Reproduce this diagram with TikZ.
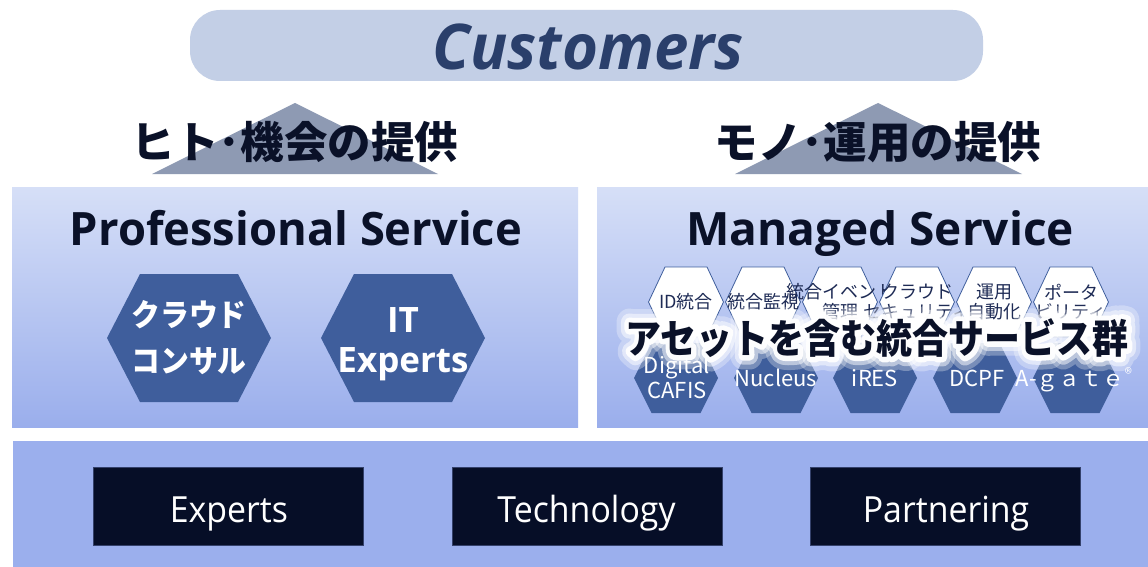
\documentclass[tikz,border=0pt]{standalone}
\usepackage{fontspec}
\usepackage{graphicx}
\newfontfamily\jp{Noto Sans CJK JP}
\newfontfamily\jpglowA{Noto Sans CJK JP}[BoldFeatures={FakeBold=70}]
\newfontfamily\jpglowB{Noto Sans CJK JP}[BoldFeatures={FakeBold=46}]
\newfontfamily\jpglowC{Noto Sans CJK JP}[BoldFeatures={FakeBold=26}]
\newfontfamily\os{Open Sans}
\definecolor{pill}{HTML}{C3CFE6}
\definecolor{custtxt}{HTML}{2A3F6B}
\definecolor{tri}{HTML}{8E9AB3}
\definecolor{ink}{HTML}{0A1128}
\definecolor{ptop}{HTML}{D6DFF7}
\definecolor{pbot}{HTML}{9AAEEC}
\definecolor{hexf}{HTML}{3F5E9C}
\definecolor{band}{HTML}{9BAFED}
\definecolor{boxc}{HTML}{060E27}
\definecolor{boxline}{HTML}{34416B}
\definecolor{navy}{HTML}{1E2B55}
\newcommand{\myhex}[6]{\path[#6] ({#1-#3},{#2}) -- ({#1-#4},{#2-#5}) -- ({#1+#4},{#2-#5}) -- ({#1+#3},{#2}) -- ({#1+#4},{#2+#5}) -- ({#1-#4},{#2+#5}) -- cycle;}
\newcommand{\bigstr}{\scalebox{0.9}[1]{アセットを含む統合サービス群}}
\begin{document}
\begin{tikzpicture}[x=1pt,y=-1pt,
  heading/.style={inner sep=0, text=ink, font=\jp\bfseries\fontsize{43.5}{43.5}\selectfont},
  panel/.style={inner sep=0, draw=none, top color=ptop, bottom color=pbot},
  titletxt/.style={anchor=base, inner sep=0, text=ink, font=\os\bfseries\fontsize{46}{46}\selectfont},
  phexlbl/.style={inner sep=0, text=white, font=\jp\bfseries\fontsize{31}{31}\selectfont},
  phexlat/.style={anchor=base, inner sep=0, text=white, font=\os\bfseries\fontsize{35}{35}\selectfont},
  bighex/.style={fill=hexf},
  tophex/.style={fill=white, draw=hexf, line width=0.8pt},
  toplbl/.style={inner sep=0, text=navy, font=\jp\fontsize{18}{18}\selectfont},
  bothex/.style={fill=hexf},
  botlbl/.style={anchor=base, inner sep=0, text=white, font=\jp\fontsize{22}{22}\selectfont},
  bigtxt/.style={inner sep=0, font=\jp\bfseries\fontsize{40}{40}\selectfont},
  dbox/.style={fill=boxc, draw=boxline, line width=0.6pt, minimum width=270pt, minimum height=78pt, inner sep=0},
  boxlbl/.style={anchor=base, inner sep=0, text=white, font=\os\fontsize{36}{36}\selectfont}
]
\useasboundingbox (0,0) rectangle (1148,567);
\fill[white] (0,0) rectangle (1148,567);

% Customers
\node[fill=pill, rounded corners=30pt, minimum width=793pt, minimum height=71pt, inner sep=0] (custbar) at (586.5,45.5) {};
\node[anchor=base, inner sep=0, text=custtxt, font=\os\bfseries\itshape\fontsize{63}{63}\selectfont] (cust) at (588,70) {\scalebox{0.98}[1]{Customers}};

% triangles and headings
\fill[tri] (152,174) -- (295,103) -- (438,174) -- cycle;
\fill[tri] (735,174) -- (878,103) -- (1022,174) -- cycle;
\node[heading] (hL) at (295,142) {ヒト･機会の提供};
\node[heading] (hR) at (878,142) {モノ･運用の提供};

% panels
\node[panel, minimum width=566pt, minimum height=240pt] (ps) at (295,307) {};
\node[panel, minimum width=551pt, minimum height=240pt] (ms) at (872.5,307) {};
\node[titletxt] (pst) at (296,245) {\scalebox{0.985}[1]{Professional Service}};
\node[titletxt] (mst) at (880,245) {Managed Service};

% professional hexagons
\myhex{189}{338}{82}{49}{64}{bighex}
\node[phexlbl] (cc1) at (189,315) {\scalebox{0.93}[1]{クラウド}};
\node[phexlbl] (cc2) at (189,361) {\scalebox{0.93}[1]{コンサル}};
\myhex{403}{338}{82}{49}{64}{bighex}
\node[phexlat] (it1) at (403,332) {IT};
\node[phexlat] (it2) at (403,372) {Experts};

% managed: top row
\myhex{686}{302}{37.5}{21}{35}{tophex}
\node[toplbl] (t1) at (686,302) {ID統合};
\myhex{763}{302}{37.5}{21}{35}{tophex}
\node[toplbl] (t2) at (763,302) {統合監視};
\myhex{840}{302}{37.5}{21}{35}{tophex}
\node[toplbl] (t3a) at (840,292) {統合イベント};
\node[toplbl] (t3b) at (840,312) {管理};
\myhex{917}{302}{37.5}{21}{35}{tophex}
\node[toplbl] (t4a) at (917,292) {クラウド};
\node[toplbl] (t4b) at (917,312) {セキュリティ};
\myhex{994}{302}{37.5}{21}{35}{tophex}
\node[toplbl] (t5a) at (994,292) {運用};
\node[toplbl] (t5b) at (994,312) {自動化};
\myhex{1071}{302}{37.5}{21}{35}{tophex}
\node[toplbl] (t6a) at (1071,292) {ポータ};
\node[toplbl] (t6b) at (1071,312) {ビリティ};

% managed: bottom row (shapes)
\myhex{676}{378}{42}{24.5}{35}{bothex}
\myhex{776}{378}{42}{24.5}{35}{bothex}
\myhex{875}{378}{42}{24.5}{35}{bothex}
\myhex{975}{378}{42}{24.5}{35}{bothex}
\myhex{1075}{378}{42}{24.5}{35}{bothex}

% big caption with glow
\begin{scope}[line join=round]
\node[inner sep=0, text=white, opacity=0.3, font=\jpglowA\bfseries\fontsize{40}{40}\selectfont] (glowA) at (877,338) {\bigstr};
\node[inner sep=0, text=white, opacity=0.5, font=\jpglowB\bfseries\fontsize{40}{40}\selectfont] (glowB) at (877,338) {\bigstr};
\node[inner sep=0, text=white, opacity=0.95, font=\jpglowC\bfseries\fontsize{40}{40}\selectfont] (glowC) at (877,338) {\bigstr};
\end{scope}
\node[bigtxt, text=ink] (big) at (877,338) {\bigstr};

% managed: bottom row (labels)
\node[botlbl] (b1a) at (677,373) {Digital};
\node[botlbl] (b1b) at (677,398) {CAFIS};
\node[botlbl] (b2) at (776,386) {Nucleus};
\node[botlbl] (b3) at (875,386) {iRES};
\node[botlbl] (b4) at (977,386) {DCPF};
\node[botlbl] (b5) at (1074,386) {A-ｇａｔｅ\raisebox{7pt}{\fontsize{15}{15}\selectfont ®}};

% bottom band
\node[fill=band, minimum width=1135pt, minimum height=126pt, inner sep=0] (band) at (580.5,504) {};
\node[dbox] (bx1) at (228,506) {};
\node[dbox] (bx2) at (587,506) {};
\node[dbox] (bx3) at (945.5,506) {};
\node[boxlbl] (l1) at (229,522) {\scalebox{0.94}[1]{Experts}};
\node[boxlbl] (l2) at (586.5,522) {\scalebox{0.94}[1]{Technology}};
\node[boxlbl] (l3) at (946,522) {\scalebox{0.94}[1]{Partnering}};
\end{tikzpicture}
\end{document}
